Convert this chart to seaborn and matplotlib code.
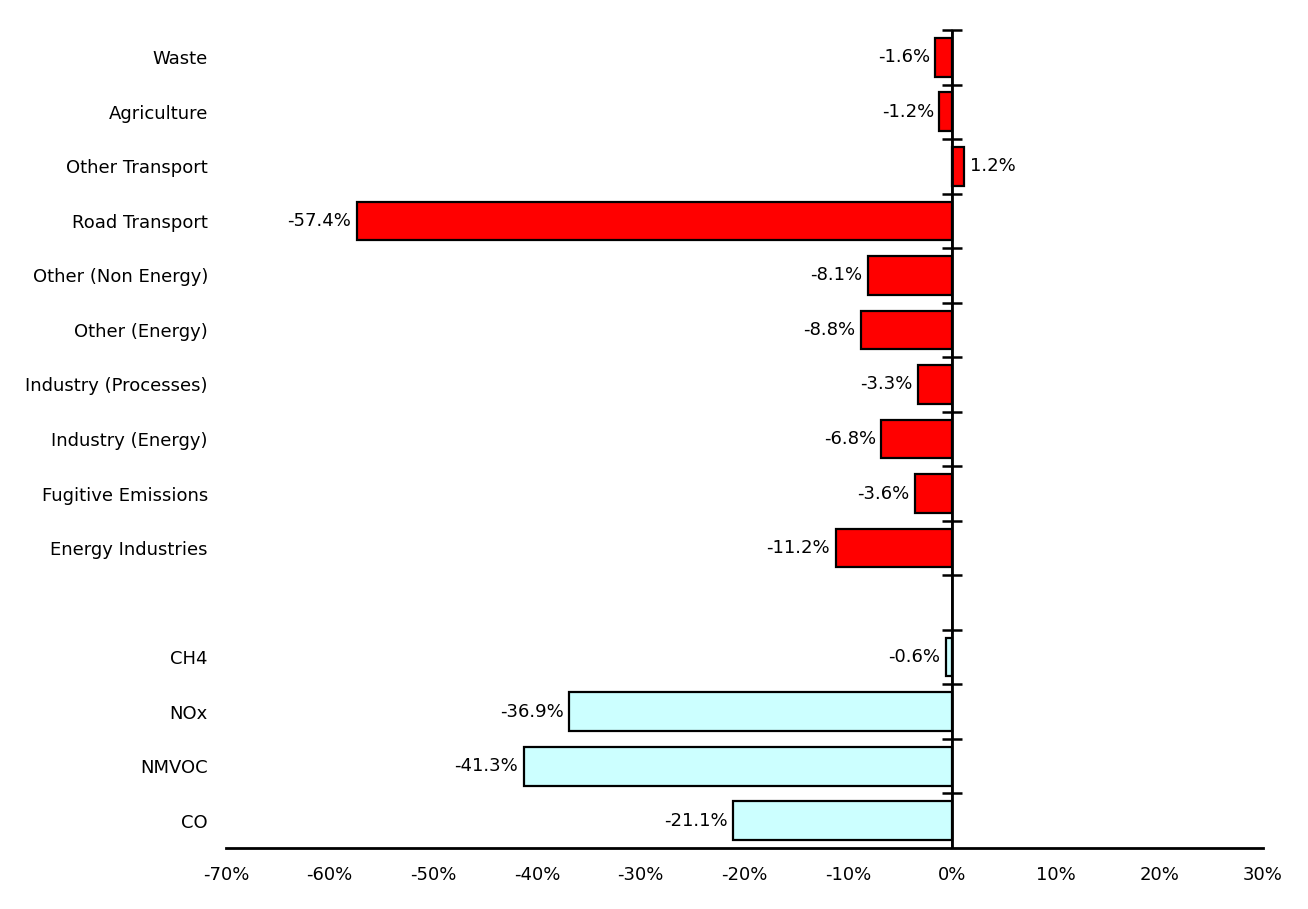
import matplotlib
matplotlib.use("Agg")
import matplotlib.pyplot as plt
import seaborn as sns
import pandas as pd
import numpy as np

categories = ["Waste", "Agriculture", "Other Transport", "Road Transport",
              "Other (Non Energy)", "Other (Energy)", "Industry (Processes)",
              "Industry (Energy)", "Fugitive Emissions", "Energy Industries",
              " ", "CH4", "NOx", "NMVOC", "CO"]
values = [-1.6, -1.2, 1.2, -57.4, -8.1, -8.8, -3.3, -6.8, -3.6, -11.2,
          np.nan, -0.6, -36.9, -41.3, -21.1]
groups = ["sector"] * 10 + ["none"] + ["gas"] * 4
palette = {"sector": "#FF0000", "gas": "#CCFFFF", "none": "#FFFFFF"}
x_ticks = [-70, -60, -50, -40, -30, -20, -10, 0, 10, 20, 30]

df = pd.DataFrame({"cat": categories, "val": [v / 100 for v in values], "grp": groups})

sns.set_theme(style="white", rc={"text.color": "black", "xtick.color": "black",
                                 "ytick.color": "black", "axes.labelcolor": "black"})
plt.rcParams["font.family"] = ["DejaVu Sans"]
FS = 13

fig = plt.figure(figsize=(13.08, 9.09), dpi=100)
ax = fig.add_axes([226 / 1308, 1 - 848 / 909, (1263 - 226) / 1308, (848 - 30) / 909])

sns.barplot(data=df, y="cat", x="val", hue="grp", palette=palette, order=categories,
            hue_order=["sector", "none", "gas"], dodge=False, orient="h",
            saturation=1, edgecolor="black", linewidth=1.6, width=0.71,
            legend=False, ax=ax)

ax.set_xlim(-0.7, 0.3)
ax.set_ylim(len(categories) - 0.5, -0.5)
ax.set_xticks([t / 100 for t in x_ticks])
ax.set_xticklabels([f"{t}%" for t in x_ticks], fontsize=FS)
ax.set_xlabel("")
ax.set_ylabel("")
ax.tick_params(axis="x", direction="out", length=6, width=2, color="black", pad=7)
ax.tick_params(axis="y", length=0, pad=13, labelsize=FS)
for s in ["top", "right", "left"]:
    ax.spines[s].set_visible(False)
ax.spines["bottom"].set_linewidth(2)
ax.spines["bottom"].set_color("black")

# vertical axis line at zero with boundary ticks
ax.axvline(0, color="black", linewidth=2, zorder=5)
sec = ax.secondary_yaxis(0.7)
sec.spines["left"].set_visible(False)
sec.set_yticks(np.arange(-0.5, len(categories) - 1, 1.0))
sec.set_yticklabels([])
sec.tick_params(axis="y", direction="inout", length=14, width=1.8, color="black")

for i, v in enumerate(values):
    if np.isnan(v):
        continue
    x = v / 100
    if v < 0:
        ax.annotate(f"{v:.1f}%", (x, i), xytext=(-4, 0), textcoords="offset points",
                    ha="right", va="center", fontsize=FS)
    else:
        ax.annotate(f"{v:.1f}%", (x, i), xytext=(4, 0), textcoords="offset points",
                    ha="left", va="center", fontsize=FS)

fig.savefig("out.png", dpi=100)
